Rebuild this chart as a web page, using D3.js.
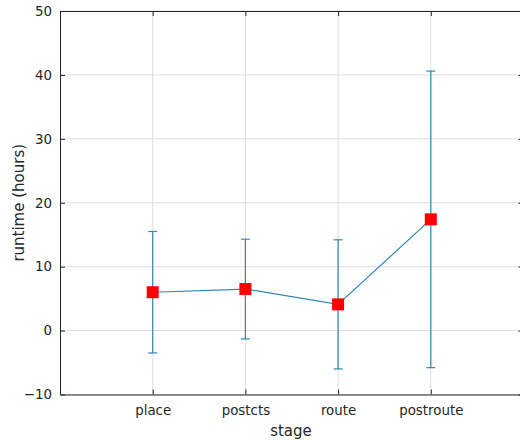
<!DOCTYPE html>
<html>
<head>
<meta charset="utf-8">
<script src="https://cdn.jsdelivr.net/npm/d3@7"></script>
<style>
  body { margin: 0; background: #fff; }
  svg text { font-family: "DejaVu Sans", sans-serif; fill: #262626; }
</style>
</head>
<body>
<div id="chart"></div>
<script>
// stages and runtime stats (hours)
var stages = ["place", "postcts", "route", "postroute"];
var meanHours = [6.0, 6.5, 4.1, 17.4];
var errHours = [9.5, 7.8, 10.1, 23.2];
var yTicks = [-10, 0, 10, 20, 30, 40, 50];

var width = 520, height = 440;
// plot box (note: "top" is taken by window.top, so use a prefix)
var boxLeft = 60, boxTop = 11, boxBottom = 394.5, boxRight = 523.5;

var svg = d3.select("#chart").append("svg")
  .attr("width", width)
  .attr("height", height);

// x runs 0..5 with stages at 1..4
var x = d3.scaleLinear().domain([0, stages.length + 1]).range([boxLeft, boxRight]);
var y = d3.scaleLinear().domain([-10, 50]).range([boxBottom, boxTop]);
var xIdx = stages.map(function(d, i){ return i + 1; });

// grid
var grid = svg.append("g").attr("class", "grid");
grid.selectAll("line.gx").data(xIdx).enter().append("line")
  .attr("x1", function(d){ return x(d); })
  .attr("x2", function(d){ return x(d); })
  .attr("y1", boxTop).attr("y2", boxBottom)
  .attr("stroke", "#dedede").attr("stroke-width", 1);
grid.selectAll("line.gy").data(yTicks).enter().append("line")
  .attr("x1", boxLeft).attr("x2", boxRight)
  .attr("y1", function(d){ return y(d); })
  .attr("y2", function(d){ return y(d); })
  .attr("stroke", "#dedede").attr("stroke-width", 1);

// axes (MATLAB-style, ticks inward)
var bAxis = d3.axisBottom(x).tickValues(xIdx)
  .tickFormat(function(d){ return stages[d - 1]; })
  .tickSizeInner(-5).tickSizeOuter(0).tickPadding(11);
var lAxis = d3.axisLeft(y).tickValues(yTicks)
  .tickSizeInner(-5).tickSizeOuter(0).tickPadding(8);
var tAxis = d3.axisTop(x).tickValues(xIdx).tickFormat("")
  .tickSizeInner(-5).tickSizeOuter(0);
var rAxis = d3.axisRight(y).tickValues(yTicks).tickFormat("")
  .tickSizeInner(-5).tickSizeOuter(0);

var bAxisGroup = svg.append("g").attr("transform", "translate(0," + boxBottom + ")").call(bAxis);
var lAxisGroup = svg.append("g").attr("transform", "translate(" + boxLeft + ",0)").call(lAxis);
var tAxisGroup = svg.append("g").attr("transform", "translate(0," + boxTop + ")").call(tAxis);
var rAxisGroup = svg.append("g").attr("transform", "translate(" + boxRight + ",0)").call(rAxis);

[bAxisGroup, lAxisGroup, tAxisGroup, rAxisGroup].forEach(function(g){
  g.select(".domain").attr("stroke", "#262626").attr("stroke-width", 1);
  g.selectAll(".tick line").attr("stroke", "#262626");
  g.selectAll(".tick text").style("font-size", "13.4px").attr("fill", "#333333");
});

// error bars
var blue = "#2f86bd";
var bars = svg.append("g").attr("class", "errbars");
var data = stages.map(function(s, i){ return [i + 1, meanHours[i], errHours[i]]; });
bars.selectAll("line.v").data(data).enter().append("line")
  .attr("x1", function(d){ return x(d[0]); })
  .attr("x2", function(d){ return x(d[0]); })
  .attr("y1", function(d){ return y(d[1] + d[2]); })
  .attr("y2", function(d){ return y(d[1] - d[2]); })
  .attr("stroke", blue).attr("stroke-width", 1.2);
[1, -1].forEach(function(sgn){
  bars.selectAll("line.c" + (sgn > 0 ? "up" : "dn")).data(data).enter().append("line")
    .attr("x1", function(d){ return x(d[0]) - 4.5; })
    .attr("x2", function(d){ return x(d[0]) + 4.5; })
    .attr("y1", function(d){ return y(d[1] + sgn * d[2]); })
    .attr("y2", function(d){ return y(d[1] + sgn * d[2]); })
    .attr("stroke", blue).attr("stroke-width", 1.2);
});

// mean line
var line = d3.line().x(function(d){ return x(d[0]); }).y(function(d){ return y(d[1]); });
svg.append("path").datum(data)
  .attr("d", line)
  .attr("fill", "none")
  .attr("stroke", blue)
  .attr("stroke-width", 1.2);

// red square markers
var ms = 12;
svg.append("g").selectAll("rect").data(data).enter().append("rect")
  .attr("x", function(d){ return x(d[0]) - ms / 2; })
  .attr("y", function(d){ return y(d[1]) - ms / 2; })
  .attr("width", ms).attr("height", ms)
  .attr("fill", "#ff0000");

// labels
svg.append("text")
  .attr("x", 291).attr("y", 436)
  .attr("text-anchor", "middle")
  .style("font-size", "15px")
  .text("stage");
svg.append("text")
  .attr("transform", "translate(24," + ((boxTop + boxBottom) / 2) + ") rotate(-90)")
  .attr("text-anchor", "middle")
  .style("font-size", "15px")
  .text("runtime (hours)");
</script>
</body>
</html>
